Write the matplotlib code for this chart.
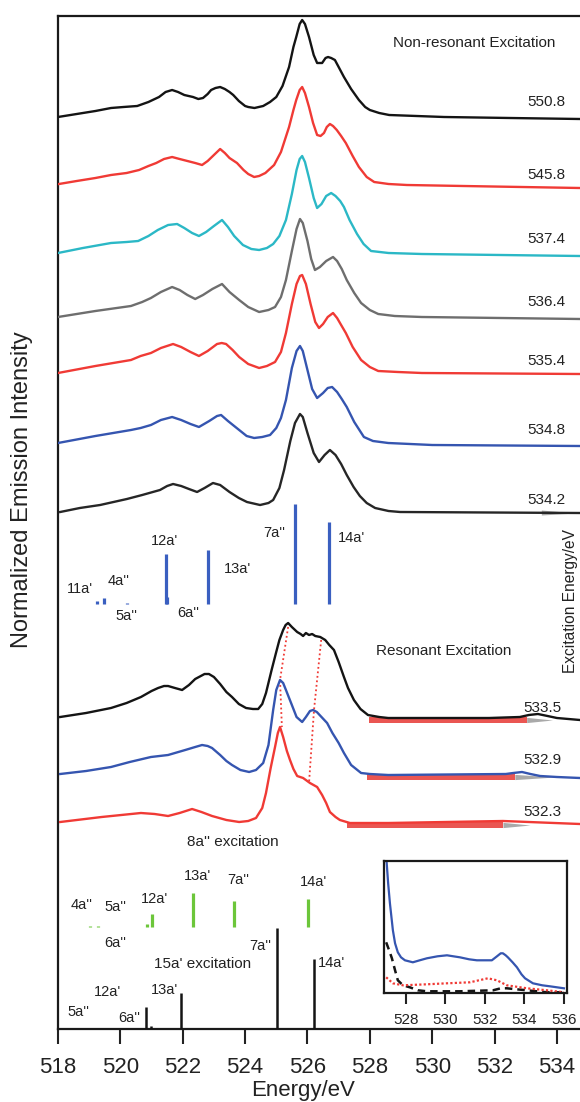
import matplotlib
matplotlib.use('Agg')
import matplotlib.pyplot as plt

plt.rcParams['font.family'] = ['Liberation Sans', 'DejaVu Sans']

# ---------------- Non-resonant spectra (energy eV, intensity above own baseline) -------------
e_5508 = [518.0, 518.6, 519.2, 519.7, 520.1, 520.54, 520.9, 521.24, 521.45, 521.66, 521.85, 522.05,
          522.33, 522.5, 522.65, 522.8, 522.91, 523.05, 523.2, 523.35, 523.5, 523.62, 523.8, 524.0,
          524.1, 524.3, 524.58, 524.8, 525.0, 525.2, 525.41, 525.55, 525.64, 525.75, 525.83, 525.92,
          526.05, 526.2, 526.31, 526.47, 526.58, 526.66, 526.76, 526.88, 527.0, 527.17, 527.4,
          527.65, 527.85, 528.0, 528.3, 528.62, 529.5, 530.38, 532.5, 534.74]
i_5508 = [2, 5, 8, 11, 12, 13, 17, 22, 27, 29, 27, 24, 22, 20, 21, 25, 29, 31, 32, 30, 27, 24, 18, 13,
          12, 11, 13, 17, 22, 33, 52, 72, 82, 95, 99, 95, 82, 64, 56, 56, 61, 62, 61, 59, 52, 42, 30,
          19, 12, 9, 6, 4, 3, 2, 1, 0]

e_5458 = [518.03, 518.6, 519.2, 519.7, 520.2, 520.6, 520.9, 521.15, 521.4, 521.66, 521.9, 522.15,
          522.4, 522.62, 522.8, 523.0, 523.2, 523.35, 523.5, 523.74, 523.95, 524.1, 524.29, 524.45,
          524.65, 524.93, 525.15, 525.41, 525.55, 525.64, 525.75, 525.83, 525.92, 526.05, 526.18,
          526.31, 526.42, 526.53, 526.62, 526.72, 526.82, 526.94, 527.08, 527.23, 527.45, 527.65,
          527.9, 528.14, 528.6, 529.19, 531.0, 534.74]
i_5458 = [4, 7, 10, 13, 15, 18, 22, 25, 29, 31, 29, 27, 25, 23, 27, 33, 39, 35, 30, 25, 18, 14, 11, 12,
          15, 23, 36, 61, 78, 88, 98, 101, 95, 81, 65, 53, 52, 55, 61, 64, 62, 58, 52, 45, 32, 21,
          11, 6, 4, 3, 2, 0]

e_5374 = [518.0, 518.8, 519.7, 520.2, 520.57, 520.9, 521.2, 521.53, 521.82, 522.05, 522.3, 522.52,
          522.75, 523.0, 523.26, 523.45, 523.65, 523.93, 524.2, 524.45, 524.7, 524.9, 525.1, 525.31,
          525.5, 525.65, 525.75, 525.83, 525.92, 526.05, 526.2, 526.31, 526.45, 526.6, 526.76,
          526.9, 527.05, 527.17, 527.35, 527.59, 527.8, 528.04, 528.6, 529.67, 534.74]
i_5374 = [3, 8, 13, 14, 15, 20, 26, 31, 32, 28, 23, 20, 24, 30, 36, 29, 20, 11, 7, 6, 8, 12, 20, 36,
          62, 86, 97, 100, 94, 78, 58, 48, 52, 60, 63, 60, 55, 49, 36, 22, 12, 5, 3, 2, 0]

e_5364 = [518.0, 519.2, 520.34, 520.7, 520.98, 521.3, 521.66, 521.9, 522.15, 522.4, 522.65, 522.95,
          523.26, 523.5, 523.81, 524.1, 524.45, 524.75, 524.96, 525.15, 525.31, 525.5, 525.65,
          525.76, 525.85, 526.0, 526.12, 526.24, 526.4, 526.6, 526.82, 526.95, 527.1, 527.26, 527.5,
          527.72, 528.0, 528.27, 528.8, 529.67, 534.74]
i_5364 = [2, 8, 13, 17, 21, 27, 32, 29, 24, 20, 24, 30, 35, 27, 19, 12, 7, 9, 12, 22, 39, 68, 90, 100,
          96, 78, 60, 49, 52, 58, 62, 58, 50, 39, 26, 16, 9, 5, 3, 2, 0]

e_5354 = [518.0, 519.2, 520.34, 520.65, 520.98, 521.3, 521.69, 521.95, 522.25, 522.52, 522.8, 523.1,
          523.25, 523.39, 523.6, 523.81, 524.1, 524.45, 524.7, 524.96, 525.15, 525.31, 525.5, 525.65,
          525.76, 525.83, 525.95, 526.1, 526.25, 526.37, 526.5, 526.65, 526.82, 526.95, 527.08,
          527.23, 527.45, 527.72, 528.0, 528.27, 528.9, 529.67, 534.74]
i_5354 = [1, 8, 14, 18, 21, 26, 30, 27, 22, 18, 23, 30, 31, 30, 24, 17, 10, 6, 8, 12, 22, 41, 70, 90,
          98, 99, 90, 70, 52, 46, 50, 57, 61, 56, 49, 41, 27, 14, 7, 3, 2, 1, 0]

e_5348 = [518.0, 519.2, 520.34, 520.65, 520.98, 521.3, 521.66, 521.95, 522.25, 522.52, 522.85, 523.1,
          523.23, 523.45, 523.81, 524.05, 524.29, 524.55, 524.8, 525.0, 525.15, 525.31, 525.5,
          525.65, 525.76, 525.85, 526.0, 526.15, 526.31, 526.5, 526.65, 526.79, 526.95, 527.1,
          527.26, 527.5, 527.81, 528.1, 528.59, 530.0, 534.74]
i_5348 = [3, 10, 16, 18, 21, 26, 29, 26, 22, 19, 25, 30, 31, 25, 16, 10, 8, 9, 11, 18, 28, 46, 78, 95,
          100, 95, 76, 57, 48, 53, 58, 59, 54, 47, 39, 24, 9, 5, 3, 1, 0]

e_5342 = [518.07, 518.7, 519.35, 520.21, 520.7, 521.27, 521.5, 521.69, 521.95, 522.2, 522.46, 522.7,
          522.97, 523.2, 523.5, 523.8, 524.06, 524.48, 524.75, 524.9, 525.1, 525.25, 525.45, 525.6,
          525.76, 525.85, 526.0, 526.2, 526.37, 526.55, 526.72, 526.9, 527.08, 527.26, 527.48,
          527.68, 527.9, 528.17, 528.6, 528.97, 534.74]
i_5342 = [1, 5, 8, 14, 18, 23, 27, 29, 27, 24, 21, 25, 30, 28, 21, 15, 11, 8, 10, 13, 25, 43, 72, 90,
          99, 96, 80, 60, 51, 58, 63, 58, 49, 38, 26, 17, 10, 5, 2, 1, 0]

# ---------------- Resonant spectra ----------------
e_5335 = [518.07, 518.9, 519.7, 520.2, 520.66, 521.0, 521.21, 521.4, 521.53, 521.75, 521.98, 522.2,
          522.4, 522.52, 522.7, 522.84, 523.0, 523.2, 523.4, 523.58, 523.8, 524.03, 524.25, 524.42,
          524.55, 524.67, 524.85, 524.99, 525.1, 525.22, 525.3, 525.38, 525.5, 525.67, 525.78,
          525.86, 525.95, 526.05, 526.15, 526.25, 526.41, 526.57, 526.7, 526.85, 527.0, 527.17,
          527.3, 527.49, 527.7, 527.94, 528.3, 528.59, 531.82, 532.81, 533.1, 533.39, 533.7, 534.0,
          534.74]
i_5335 = [1, 5, 10, 15, 21, 27, 30, 32, 32, 30, 28, 33, 39, 41, 44, 44, 41, 34, 26, 21, 14, 10, 9, 9,
          14, 25, 48, 65, 78, 88, 93, 95, 91, 86, 84, 82, 85, 83, 84, 82, 81, 78, 73, 68, 56, 41,
          30, 18, 9, 3, 1, 0, 0, 1, 3, 4, 2, 0, -2]

e_5329 = [518.07, 518.9, 519.7, 520.3, 520.98, 521.53, 522.08, 522.4, 522.62, 522.8, 522.94, 523.2,
          523.4, 523.58, 523.85, 524.13, 524.35, 524.58, 524.75, 524.9, 525.0, 525.12, 525.22,
          525.31, 525.5, 525.65, 525.83, 525.95, 526.08, 526.18, 526.3, 526.45, 526.63, 526.8, 527.0,
          527.17, 527.4, 527.72, 528.0, 528.59, 532.36, 532.6, 532.88, 533.15, 533.46, 534.0, 534.74]
i_5329 = [1, 4, 8, 13, 18, 20, 25, 28, 30, 29, 27, 20, 14, 10, 5, 3, 5, 12, 30, 65, 85, 95, 92, 85,
          70, 58, 53, 58, 64, 65, 63, 58, 52, 42, 32, 22, 10, 2, 1, 0, 1, 2, 3, 1, -1, -2, -3]

e_5323 = [518.07, 519.4, 520.66, 521.1, 521.53, 521.9, 522.3, 522.6, 522.94, 523.4, 523.81, 524.1,
          524.35, 524.55, 524.67, 524.82, 524.96, 525.05, 525.12, 525.22, 525.34, 525.44, 525.55,
          525.67, 525.86, 526.08, 526.31, 526.47, 526.6, 526.72, 526.9, 527.04, 527.36, 528.59,
          532.27, 534.74]
i_5323 = [1, 6, 10, 9, 7, 10, 14, 11, 7, 3, 1, 2, 5, 15, 30, 55, 76, 90, 96, 86, 72, 63, 54, 47, 45,
          40, 36, 28, 20, 11, 6, 3, 0, 0, 2, -1]

exc_labels = ['550.8', '545.8', '537.4', '536.4', '535.4', '534.8', '534.2', '533.5', '532.9', '532.3']

# peak-tracking dotted lines (energy, absolute intensity)
dot1_e = [525.38, 525.12, 525.18]
dot1_y = [402, 349, 302]
dot2_e = [526.44, 526.21, 526.05]
dot2_y = [389, 319, 246]

# shaded elastic bands (red start, red end / gray end)
band_red_start = [527.97, 527.91, 527.27]
band_red_end = [533.03, 532.65, 532.27]
band_gray_end = [533.86, 533.93, 533.14]

# ---------------- Calculated transitions ----------------
calc_e = [519.24, 519.46, 520.20, 521.46, 521.50, 522.82, 525.60, 526.69]
calc_h = [3.5, 6.5, 1, 50, 7, 54, 100, 82]
calc_lab = ["11a'", "4a''", "5a''", "12a'", "6a''", "13a'", "7a''", "14a'"]

g_e = [519.03, 519.29, 520.85, 521.02, 522.34, 523.65, 526.02]
g_h = [1, 1, 3, 13, 34, 26, 28]
g_lab = ["4a''", "5a''", "6a''", "12a'", "13a'", "7a''", "14a'"]

k_e = [520.82, 520.97, 521.94, 525.01, 526.21]
k_h = [22, 3, 36, 101, 70]
k_lab = ["5a''", "12a'", "6a''", "13a'", "7a''", "14a'"]

# ---------------- Inset ----------------
ins_e_blue = [526.95, 527.02, 527.1, 527.19, 527.34, 527.45, 527.59, 527.75, 527.95, 528.35, 528.7,
              529.06, 529.6, 530.08, 530.4, 530.73, 531.2, 531.59, 532.0, 532.35, 532.61, 532.8,
              532.91, 533.05, 533.16, 533.4, 533.62, 533.85, 534.03, 534.43, 534.9, 535.29, 536.0]
ins_i_blue = [145, 132, 110, 90, 63, 50, 41, 36, 33, 31, 33, 35, 37, 38, 37, 36, 34, 33, 33, 33, 37,
              40, 40, 38, 36, 31, 26, 19, 15, 10, 8, 7, 5]
ins_e_black = [527.0, 527.15, 527.29, 527.45, 527.59, 527.85, 528.2, 528.6, 529.06, 530.73, 532.41,
               532.8, 533.11, 533.6, 534.13, 535.14, 536.0]
ins_i_black = [51, 43, 35, 23, 13, 8, 6, 3, 2, 2, 3, 5, 5, 4, 3, 1, 1]
ins_e_red = [527.0, 527.34, 527.85, 529.06, 530.08, 531.24, 532.15, 532.61, 533.11, 534.13, 535.14,
             536.0]
ins_i_red = [16, 10, 8, 9, 10, 11, 15, 13, 8, 5, 3, 1]

# ---------------- styling / layout ----------------
BLACK = '#141414'
RED = '#f03a35'
CYAN = '#2bb8c6'
GRAY = '#6e6e6e'
BLUE = '#3555b0'
GREEN = '#6cc63a'
STICK_BLUE = '#3a5fc0'
TXT = '#222222'

W, H = 580, 1102
fig = plt.figure(figsize=(W / 100, H / 100), dpi=100)
ax = fig.add_axes([58 / W, 1 - 1029 / H, 1 - 58 / W, (1029 - 16) / H])
ax.set_xlim(518.0, 534.74)
ax.set_ylim(0, 1013)

spectra = [
    (e_5508, i_5508, BLACK, 910, 927),
    (e_5458, i_5458, RED, 841, 854),
    (e_5374, i_5374, CYAN, 773, 790),
    (e_5364, i_5364, GRAY, 710, 727),
    (e_5354, i_5354, RED, 655, 668),
    (e_5348, i_5348, BLUE, 583, 599),
    (e_5342, i_5342, '#262626', 516, 529),
    (e_5335, i_5335, BLACK, 311, 321),
    (e_5329, i_5329, BLUE, 254, 269),
    (e_5323, i_5323, RED, 206, 217),
]

# elastic bands under resonant spectra
for k, (rs, re_, ge) in enumerate(zip(band_red_start, band_red_end, band_gray_end)):
    base = spectra[7 + k][3] - 2
    ax.fill_between([rs, re_], [base - 2.6, base - 2.6], [base + 2.6, base + 2.6],
                    color='#e8443f', alpha=0.9, lw=0, zorder=1)
    ax.fill_between([re_, ge], [base - 2.6, base], [base + 2.6, base],
                    color='#a9a9a9', lw=0, zorder=1)
ax.fill_between([533.5, 534.6], [514, 516], [519, 516], color='#a9a9a9', lw=0, zorder=1)

for k, (e, i, c, off, ly) in enumerate(spectra):
    ax.plot(e, [off + v for v in i], color=c, lw=1.7, zorder=3, solid_joinstyle='round')
    x_lab = 533.65 if k < 7 else 533.52
    ax.text(x_lab, ly, exc_labels[k], fontsize=11, ha='center', va='center', color=TXT)

ax.plot(dot1_e, dot1_y, color=RED, ls=(0, (1, 1.5)), lw=1.3, zorder=2)
ax.plot(dot2_e, dot2_y, color=RED, ls=(0, (1, 1.5)), lw=1.3, zorder=2)

ax.text(531.34, 986, 'Non-resonant Excitation', fontsize=11, ha='center', va='center', color=TXT)
ax.text(530.37, 378, 'Resonant Excitation', fontsize=11, ha='center', va='center', color=TXT)

# calculated sticks (blue)
ax.vlines(calc_e, 425, [425 + h for h in calc_h], color=STICK_BLUE, lw=2.3, zorder=3)
calc_pos = [(518.71, 440, 'center'), (519.96, 448, 'center'), (520.18, 413, 'center'),
            (521.43, 488, 'center'), (522.17, 416, 'center'), (523.77, 460, 'center'),
            (524.95, 496, 'center'), (526.98, 491, 'left')]
for lab, (x, y, ha) in zip(calc_lab, calc_pos):
    ax.text(x, y, lab, fontsize=10.5, ha=ha, va='center', color=TXT)

# 8a'' excitation (green)
ax.vlines(g_e, 102, [102 + h for h in g_h], color=GREEN, lw=2.3, zorder=3)
g_pos = [(518.76, 124), (519.83, 122), (519.83, 86), (521.11, 130), (522.46, 153), (523.77, 149),
         (526.18, 147)]
for lab, (x, y) in zip(g_lab, g_pos):
    ax.text(x, y, lab, fontsize=10.5, ha='center', va='center', color=TXT)
ax.text(523.62, 187, "8a'' excitation", fontsize=11, ha='center', va='center', color=TXT)

# 15a' excitation (black)
ax.vlines(k_e, 0, k_h, color=BLACK, lw=1.8, zorder=3)
k_pos = [(518.64, 17), (519.60, 37), (520.28, 11), (521.43, 39), (524.48, 83), (526.78, 66)]
for lab, (x, y) in zip(k_lab, k_pos):
    ax.text(x, y, lab, fontsize=10.5, ha='center', va='center', color=TXT)
ax.text(522.65, 65, "15a' excitation", fontsize=11, ha='center', va='center', color=TXT)

ax.set_xticks(list(range(518, 535, 2)))
ax.set_yticks([])
ax.tick_params(axis='x', direction='out', length=11, width=1.5, labelsize=16, pad=9.5, colors=TXT)
for s in ['left', 'top', 'bottom']:
    ax.spines[s].set_linewidth(1.6)
    ax.spines[s].set_color('#1a1a1a')
ax.spines['right'].set_visible(False)

fig.text(22 / W, 1 - 490 / H, 'Normalized Emission Intensity', rotation=90, ha='center', va='center',
         fontsize=17, color=TXT)
fig.text(303 / W, 1 - 1096 / H, 'Energy/eV', ha='center', va='baseline', fontsize=16, color=TXT)
fig.text(571 / W, 1 - 601 / H, 'Excitation Energy/eV', rotation=90, ha='center', va='center',
         fontsize=11.2, color=TXT)

# inset
ins = fig.add_axes([384 / W, 1 - 993.3 / H, (567.3 - 384) / W, (993.3 - 860.7) / H])
ins.set_facecolor('white')
ins.plot(ins_e_blue, ins_i_blue, color=BLUE, lw=1.6)
ins.plot(ins_e_black, ins_i_black, color=BLACK, lw=1.8, ls=(0, (3, 2)))
ins.plot(ins_e_red, ins_i_red, color=RED, lw=1.6, ls=(0, (1, 1)))
ins.set_xlim(526.89, 536.17)
ins.set_ylim(0, 132.6)
ins.set_xticks([528, 530, 532, 534, 536])
ins.set_yticks([])
ins.tick_params(axis='x', direction='out', length=8, width=1.5, labelsize=11, pad=6.5, colors=TXT)
for s in ins.spines.values():
    s.set_linewidth(1.6)
    s.set_color('#1a1a1a')

fig.savefig('out.png', dpi=100)
